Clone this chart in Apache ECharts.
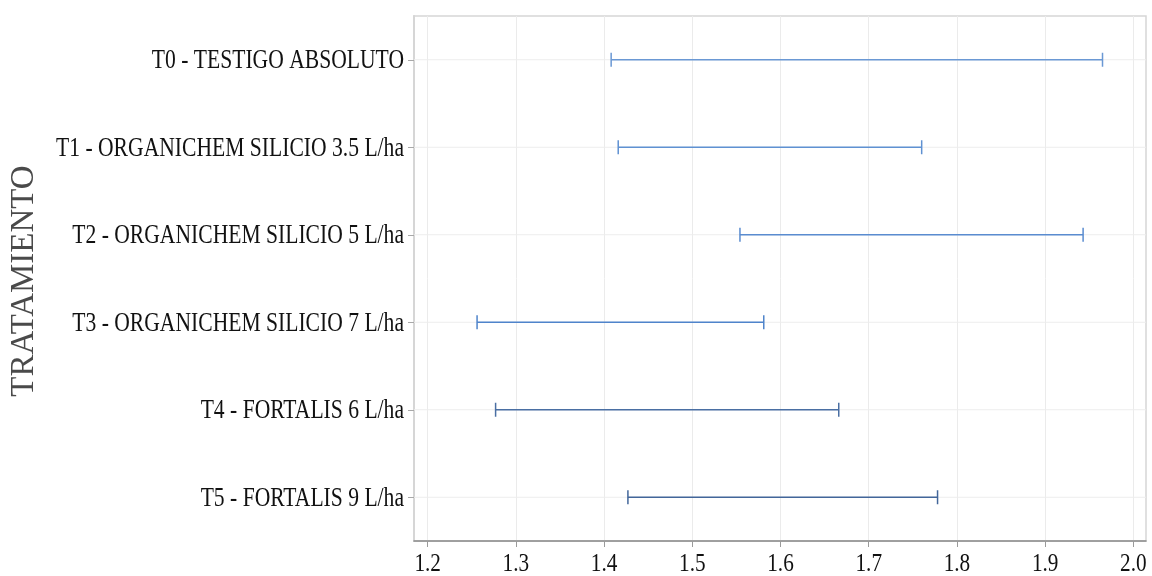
<!DOCTYPE html>
<html>
<head>
<meta charset="utf-8">
<script src="https://cdn.jsdelivr.net/npm/echarts@6/dist/echarts.min.js"></script>
<style>
  html, body { margin: 0; padding: 0; background: #fff; }
  #chart { width: 1152px; height: 576px; }
</style>
</head>
<body>
<div id="chart"></div>
<script>
// Treatments, top to bottom
const categories = [
  'T0 - TESTIGO ABSOLUTO',
  'T1 - ORGANICHEM SILICIO 3.5 L/ha',
  'T2 - ORGANICHEM SILICIO 5 L/ha',
  'T3 - ORGANICHEM SILICIO 7 L/ha',
  'T4 - FORTALIS 6 L/ha',
  'T5 - FORTALIS 9 L/ha'
];
// Interval ends for each treatment
const lowerBounds = [1.408, 1.416, 1.554, 1.256, 1.277, 1.427];
const upperBounds = [1.965, 1.760, 1.943, 1.581, 1.666, 1.778];
// X axis ticks
const tickValues = [1.2, 1.3, 1.4, 1.5, 1.6, 1.7, 1.8, 1.9, 2.0];
const tickLabels = ['1.2', '1.3', '1.4', '1.5', '1.6', '1.7', '1.8', '1.9', '2.0'];
const axisTitle = 'TRATAMIENTO';

// Whisker colours per row
const rowColors = ['#6a98d4', '#5f91d2', '#5a8cd0', '#4f84cb', '#4a6fa3', '#42669a'];

const SERIF = '"Liberation Serif", "Times New Roman", serif';

const chart = echarts.init(document.getElementById('chart'));

const seriesData = categories.map((c, i) => [lowerBounds[i], upperBounds[i], c]);

chart.setOption({
  animation: false,
  grid: {
    left: 414, right: 6, top: 16, bottom: 35,
    show: true, borderColor: '#d6d6d6', borderWidth: 1.5, backgroundColor: '#fff'
  },
  xAxis: {
    type: 'value',
    min: 1.1845,
    max: 2.0143,
    splitNumber: 8,
    axisLine: { show: true, lineStyle: { color: '#8a8a8a', width: 1.5 } },
    axisTick: { show: true, length: 6, customValues: tickValues, lineStyle: { color: '#9a9a9a', width: 1 } },
    axisLabel: { show: false },
    splitLine: { show: true, lineStyle: { color: '#ebebeb', width: 1 } }
  },
  yAxis: {
    type: 'category',
    data: categories,
    inverse: true,
    axisLine: { show: true, lineStyle: { color: '#d6d6d6', width: 2 } },
    axisTick: { show: true, alignWithLabel: true, length: 6, lineStyle: { color: '#a8a8a8' } },
    axisLabel: { show: false },
    splitLine: { show: false }
  },
  series: [{
    type: 'custom',
    encode: { x: [0, 1], y: 2 },
    data: seriesData,
    renderItem: function (params, api) {
      const lo = api.coord([api.value(0), api.value(2)]);
      const hi = api.coord([api.value(1), api.value(2)]);
      const cs = params.coordSys;
      const y = lo[1];
      const cap = 7;
      const color = rowColors[params.dataIndex];
      return {
        type: 'group',
        children: [
          { type: 'line', shape: { x1: cs.x, y1: y, x2: cs.x + cs.width, y2: y },
            style: { stroke: '#ededed', lineWidth: 1 } },
          { type: 'line', shape: { x1: lo[0], y1: y, x2: hi[0], y2: y },
            style: { stroke: color, lineWidth: 1.5 } },
          { type: 'line', shape: { x1: lo[0], y1: y - cap, x2: lo[0], y2: y + cap },
            style: { stroke: color, lineWidth: 1.5 } },
          { type: 'line', shape: { x1: hi[0], y1: y - cap, x2: hi[0], y2: y + cap },
            style: { stroke: color, lineWidth: 1.5 } }
        ]
      };
    }
  }]
});

// Narrow serif labels placed from the axes' own scales
const graphics = [];
categories.forEach(c => {
  const cy = chart.convertToPixel({ yAxisIndex: 0 }, c);
  graphics.push({
    type: 'text', x: 404, y: cy + 1.5, scaleX: 0.8, silent: true,
    style: { text: c, fontFamily: SERIF, fontSize: 27, fill: '#111',
             textAlign: 'right', textVerticalAlign: 'middle' }
  });
});
tickValues.forEach((v, i) => {
  const cx = chart.convertToPixel({ xAxisIndex: 0 }, v);
  graphics.push({
    type: 'text', x: cx, y: 564, scaleX: 0.85, silent: true,
    style: { text: tickLabels[i], fontFamily: SERIF, fontSize: 25, fill: '#111',
             textAlign: 'center', textVerticalAlign: 'middle' }
  });
});
graphics.push({
  type: 'text', x: 24, y: 281, rotation: Math.PI / 2, silent: true,
  style: { text: axisTitle, fontFamily: SERIF, fontSize: 33, fill: '#4a4a4a',
           textAlign: 'center', textVerticalAlign: 'middle' }
});
chart.setOption({ graphic: graphics });
</script>
</body>
</html>
